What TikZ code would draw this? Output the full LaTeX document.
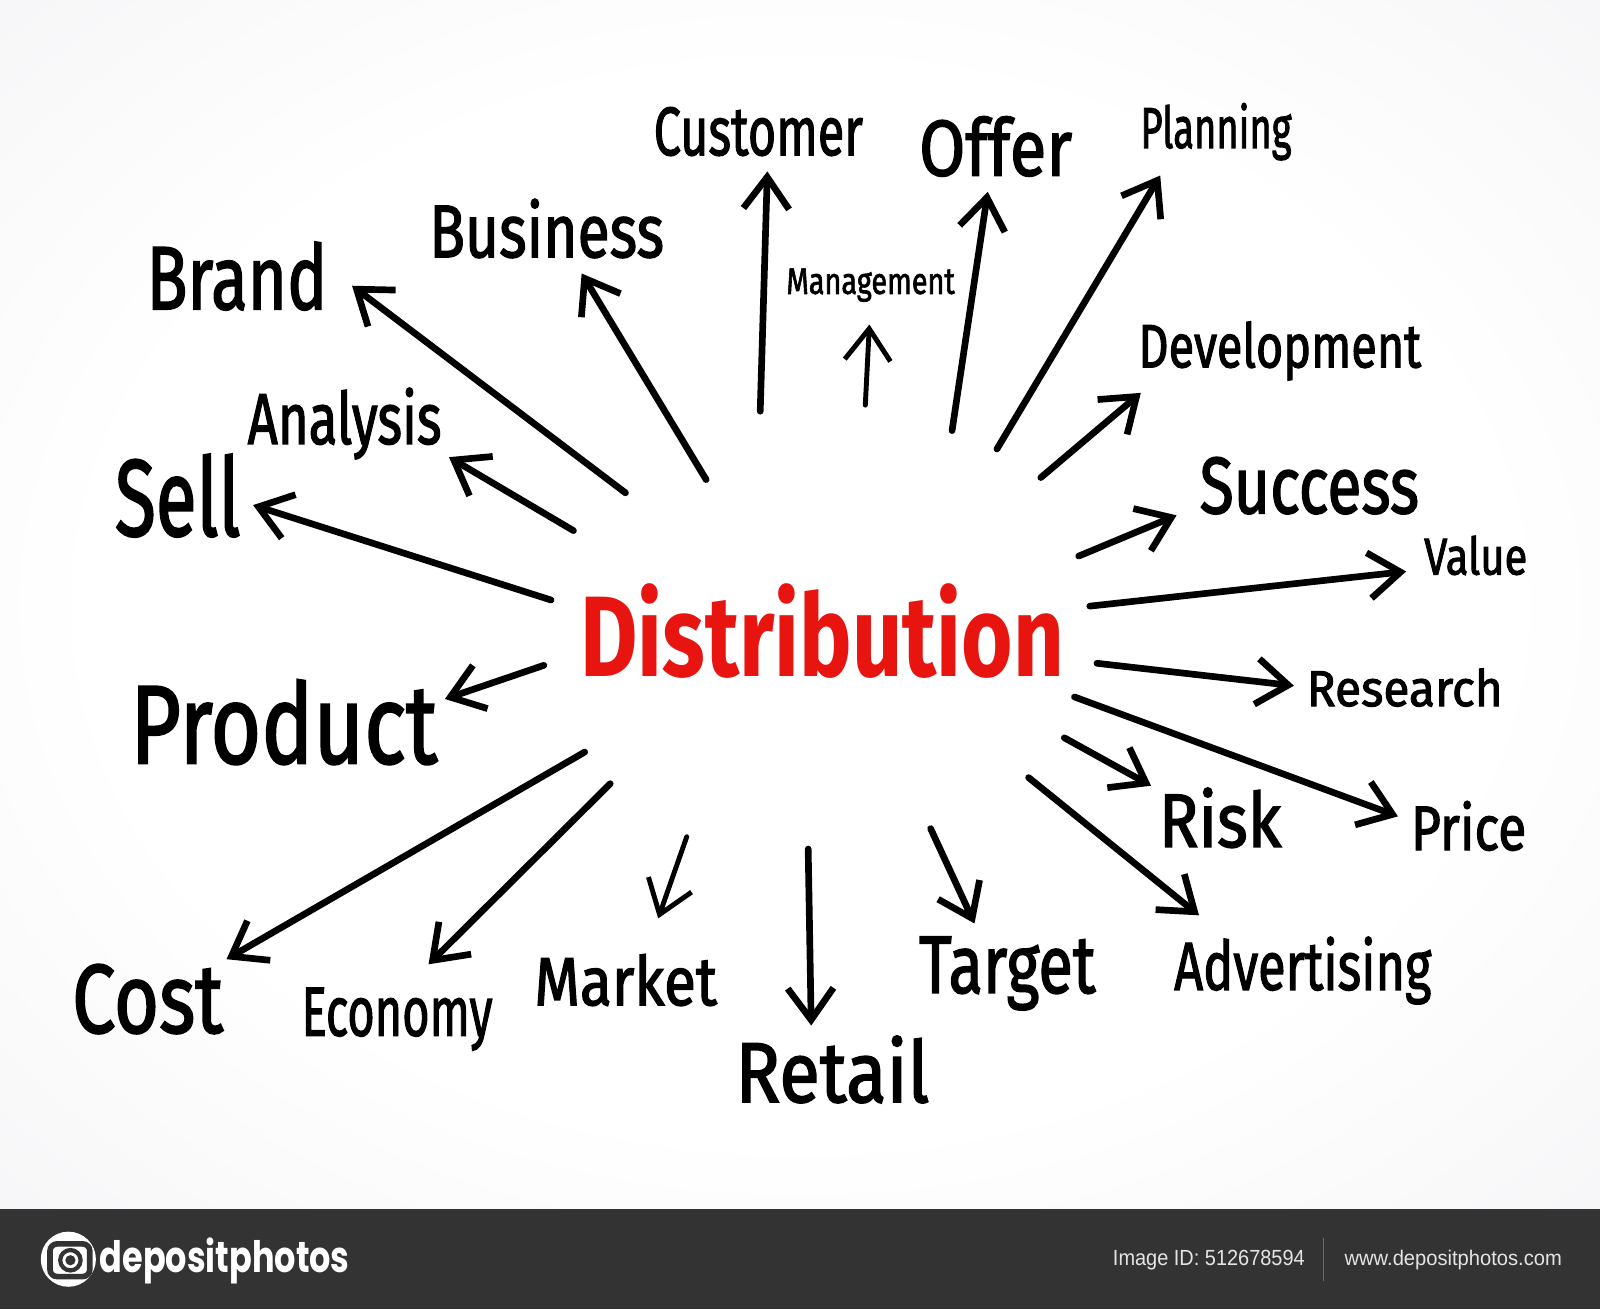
\documentclass[tikz,border=0pt]{standalone}
\usepackage{fontspec}
\setmainfont{Fira Sans}
\newfontfamily\handfont[FakeBold=2]{Fira Sans}
\newfontfamily\barfont{Liberation Sans}
\newfontfamily\logofont{Poppins}
\usetikzlibrary{arrows.meta}
\definecolor{bggray}{RGB}{224,224,230}
\definecolor{barcol}{RGB}{51,51,51}
\definecolor{bartext}{RGB}{228,228,228}
\definecolor{distred}{RGB}{232,20,16}
\newlength{\px}\setlength{\px}{0.010204cm}
% word box: width and height in picture pixels
\newcommand{\hw}[3]{\resizebox{#1\px}{#2\px}{#3}}
\pgfdeclareradialshading{paper}{\pgfpoint{0bp}{0bp}}{color(0bp)=(white);
  color(22bp)=(white);color(72bp)=(bggray)}
\tikzstyle{word}=[anchor=base west,inner sep=0pt,font=\handfont]
\tikzstyle{arr}=[line width=1.9pt,line cap=round,
                 -{Straight Barb[length=9pt,width=13pt]}]
\tikzstyle{thinarr}=[arr,line width=1.4pt]
\begin{document}
\begin{tikzpicture}[x=\px,y=-\px]
  \useasboundingbox (0,0) rectangle (1568,1283);
  \shade[shading=paper] (0,0) rectangle (1568,1185);
  % footer bar
  \fill[barcol] (0,1185) rectangle (1568,1283);
  \fill[white] (67,1234) circle (27);
  \draw[barcol,line width=1.6pt,rounded corners=2pt] (49,1219) rectangle (88,1251);
  \draw[barcol,line width=1.2pt] (69,1235) circle (10);
  \fill[barcol] (69,1235) circle (5);
  \node[anchor=base west,inner sep=0pt,text=white] (logo) at (97,1247)
    {\logofont\bfseries\hw{245}{34}{depositphotos}};
  \node[anchor=base west,inner sep=0pt,text=bartext] (imgid) at (1090,1240)
    {\barfont\hw{188}{15}{Image ID: 512678594}};
  \node[anchor=base west,inner sep=0pt,text=bartext] (site) at (1317,1240)
    {\barfont\hw{213}{15}{www.depositphotos.com}};
  \draw[gray!70!barcol,line width=0.5pt] (1297,1213) -- (1297,1255);
  % centre word
  \node[word,text=distred,font=\bfseries] (distribution) at (568,663)
    {\hw{474}{91}{Distribution}};
  % words round it
  \node[word] (customer) at (640,152) {\hw{205}{47}{Customer}};
  \node[word] (offer) at (900,172) {\hw{150}{58}{Offer}};
  \node[word] (planning) at (1117,145) {\hw{148}{44}{Planning}};
  \node[word] (management) at (770,288) {\hw{165}{25}{Management}};
  \node[word] (business) at (420,252) {\hw{230}{57}{Business}};
  \node[word] (brand) at (143,303) {\hw{177}{66}{Brand}};
  \node[word] (analysis) at (242,435) {\hw{190}{55}{Analysis}};
  \node[word] (sell) at (112,525) {\hw{123}{80}{Sell}};
  \node[word] (development) at (1115,360) {\hw{277}{45}{Development}};
  \node[word] (success) at (1175,503) {\hw{215}{55}{Success}};
  \node[word] (value) at (1395,563) {\hw{101}{38}{Value}};
  \node[word] (research) at (1280,692) {\hw{192}{37}{Research}};
  \node[word] (product) at (127,748) {\hw{301}{82}{Product}};
  \node[word] (risk) at (1135,830) {\hw{120}{58}{Risk}};
  \node[word] (price) at (1382,833) {\hw{113}{48}{Price}};
  \node[word] (cost) at (70,1012) {\hw{148}{67}{Cost}};
  \node[word] (economy) at (295,1015) {\hw{187}{47}{Economy}};
  \node[word] (market) at (523,985) {\hw{179}{50}{Market}};
  \node[word] (retail) at (720,1080) {\hw{190}{65}{Retail}};
  \node[word] (target) at (900,973) {\hw{173}{55}{Target}};
  \node[word] (advertising) at (1150,970) {\hw{252}{52}{Advertising}};
  % arrows out of the centre
  \foreach \n/\a/\b/\c/\d in {customer/745/403/752/168, offer/933/422/968/188,
      planning/977/440/1137/172, business/692/470/570/268,
      brand/613/483/345/280, development/1020/468/1118/385,
      analysis/562/520/440/448, sell/540/588/248/495,
      success/1057/545/1153/505, value/1068/594/1378/560,
      research/1075/650/1268/672, product/533/652/436/685,
      price/1053/683/1370/800, risk/1043/723/1128/770,
      advertising/1008/762/1175/897, cost/573/737/222/940,
      economy/598/768/420/945, retail/792/832/795/1005,
      target/912/812/955/905}{
    \coordinate (\n-t) at (\a,\b);
    \coordinate (\n-h) at (\c,\d);
    \draw[arr] (\n-t) -- (\n-h);
  }
  \foreach \n/\a/\b/\c/\d in {management/848/397/852/318,
      market/673/820/645/900}{
    \coordinate (\n-t) at (\a,\b);
    \coordinate (\n-h) at (\c,\d);
    \draw[thinarr] (\n-t) -- (\n-h);
  }
\end{tikzpicture}
\end{document}
